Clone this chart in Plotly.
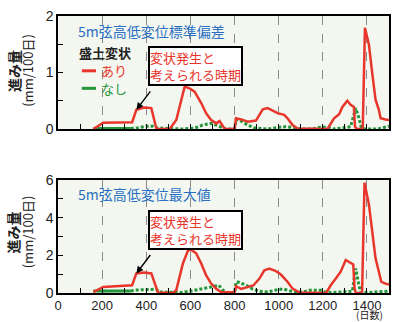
import plotly.graph_objects as go

# --- 5m弦高低変位標準偏差 (進み量, mm/100日) ---
std_ari_days = [160, 205, 336, 355, 390, 423, 446, 506, 536, 574,
                596, 619, 649, 671, 694, 717, 732, 750, 756, 800,
                807, 830, 860, 897, 928, 950, 972, 995, 1025, 1040,
                1063, 1085, 1221, 1251, 1274, 1289, 1311, 1326, 1341, 1346,
                1355, 1381, 1391, 1409, 1424, 1439, 1454, 1462, 1484, 1500]
std_ari_vals = [0.0, 0.11, 0.12, 0.34, 0.38, 0.37, 0.0, 0.0, 0.16, 0.75,
                0.72, 0.66, 0.46, 0.28, 0.16, 0.10, 0.14, 0.04, 0.0, 0.0,
                0.19, 0.17, 0.13, 0.15, 0.35, 0.37, 0.33, 0.28, 0.25, 0.19,
                0.07, 0.01, 0.0, 0.19, 0.26, 0.39, 0.50, 0.43, 0.39, 0.04,
                0.0, 0.0, 1.79, 1.49, 0.99, 0.52, 0.34, 0.19, 0.17, 0.16]

std_nashi_days = [160, 330, 360, 400, 430, 450, 500, 560, 600, 630,
                  655, 694, 717, 760, 800, 807, 830, 860, 890, 950,
                  1000, 1030, 1060, 1100, 1150, 1190, 1220, 1250, 1326, 1349,
                  1364, 1375, 1390, 1450, 1500]
std_nashi_vals = [0.01, 0.01, 0.02, 0.05, 0.05, 0.02, 0.01, 0.0, 0.01, 0.03,
                  0.07, 0.10, 0.07, 0.0, 0.0, 0.17, 0.14, 0.07, 0.02, 0.0,
                  0.03, 0.04, 0.03, 0.0, 0.0, 0.03, 0.03, 0.0, 0.04, 0.37,
                  0.19, 0.02, 0.0, 0.0, 0.05]

# --- 5m弦高低変位最大値 (進み量, mm/100日) ---
max_ari_days = [160, 205, 336, 355, 390, 423, 453, 520, 536, 566,
                589, 604, 626, 649, 671, 694, 717, 739, 800, 807,
                830, 860, 885, 912, 935, 958, 985, 1010, 1040, 1063,
                1093, 1215, 1236, 1259, 1281, 1304, 1319, 1338, 1344, 1350,
                1378, 1389, 1409, 1424, 1439, 1454, 1465, 1484, 1500]
max_ari_vals = [0.05, 0.32, 0.41, 1.04, 1.09, 1.04, 0.03, 0.0, 0.15, 1.57,
                2.25, 2.29, 2.11, 1.57, 0.95, 0.5, 0.23, 0.05, 0.03, 0.36,
                0.22, 0.3, 0.4, 0.75, 1.2, 1.3, 1.18, 0.98, 0.6, 0.23,
                0.03, 0.0, 0.41, 0.77, 1.13, 1.75, 1.63, 1.52, 0.23, 0.0,
                0.0, 5.86, 4.7, 3.27, 1.84, 1.13, 0.59, 0.5, 0.45]

max_nashi_days = [160, 330, 345, 400, 445, 460, 500, 560, 600, 630,
                  656, 694, 729, 747, 770, 800, 807, 820, 853, 883,
                  910, 950, 1003, 1025, 1055, 1090, 1110, 1138, 1191, 1210,
                  1240, 1334, 1349, 1364, 1372, 1400, 1450, 1500]
max_nashi_vals = [0.1, 0.1, 0.15, 0.18, 0.2, 0.05, 0.03, 0.03, 0.1, 0.15,
                  0.23, 0.32, 0.41, 0.15, 0.02, 0.02, 0.59, 0.57, 0.41, 0.2,
                  0.1, 0.05, 0.2, 0.2, 0.1, 0.05, 0.05, 0.14, 0.14, 0.05,
                  0.02, 0.1, 1.3, 0.41, 0.03, 0.02, 0.05, 0.1]

x_ticks = [0, 200, 400, 600, 800, 1000, 1200, 1400]
std_y_ticks = [0, 1, 2]
max_y_ticks = [0, 2, 4, 6]

# known deformation onset (day of the step in あり)
onset_day = 355
onset_std = 0.34
onset_max = 1.04

RED = "#e8362c"
GREEN = "#23953a"
BLUE = "#2a6fc2"
BG = "#f3f7ef"
FONT = "Liberation Sans, Arial, sans-serif"
JP = "Noto Sans CJK JP"

fig = go.Figure()


def add_series(xa, ya, days_n, vals_n, days_a, vals_a, solid_upto):
    # solid stretch at the beginning of なし, dotted afterwards
    k = days_n.index(solid_upto) + 1
    fig.add_trace(go.Scatter(x=days_n[:k], y=vals_n[:k], mode="lines",
                             line=dict(color=GREEN, width=3),
                             xaxis=xa, yaxis=ya, showlegend=False))
    fig.add_trace(go.Scatter(x=days_n[k - 1:], y=vals_n[k - 1:], mode="lines",
                             line=dict(color=GREEN, width=3, dash="3px,2px"),
                             xaxis=xa, yaxis=ya, showlegend=False))
    fig.add_trace(go.Scatter(x=days_a, y=vals_a, mode="lines",
                             line=dict(color=RED, width=2.5),
                             xaxis=xa, yaxis=ya, showlegend=False))


add_series("x", "y", std_nashi_days, std_nashi_vals, std_ari_days, std_ari_vals, 330)
add_series("x2", "y2", max_nashi_days, max_nashi_vals, max_ari_days, max_ari_vals, 330)

xcommon = dict(range=[0, 1500], tickvals=x_ticks, ticks="inside", ticklen=5,
               tickcolor="black", showgrid=True, gridcolor="#8a8a8a",
               griddash="dash", gridwidth=1, showline=True, linecolor="black",
               linewidth=1.5, mirror=True, zeroline=False,
               minor=dict(dtick=100, tick0=0, ticks="inside", ticklen=5,
                          tickcolor="black", showgrid=False),
               tickfont=dict(family=FONT, size=13, color="#222"))
ycommon = dict(ticks="inside", ticklen=5, tickcolor="black", showgrid=False,
               showline=True, linecolor="black", linewidth=1.5, mirror=True,
               zeroline=False, tickfont=dict(family=FONT, size=14, color="#222"))

fig.update_layout(
    width=395, height=322,
    margin=dict(l=58, r=4, t=16, b=29),
    paper_bgcolor="white", plot_bgcolor=BG,
    showlegend=False,
    xaxis=dict(xcommon, domain=[0, 1], anchor="y", showticklabels=False),
    yaxis=dict(ycommon, domain=[0.592, 1], anchor="x", range=[0, 2],
               tickvals=std_y_ticks,
               minor=dict(dtick=0.5, ticks="inside", ticklen=5, tickcolor="black")),
    xaxis2=dict(xcommon, domain=[0, 1], anchor="y2"),
    yaxis2=dict(ycommon, domain=[0, 0.408], anchor="x2", range=[0, 6],
                tickvals=max_y_ticks,
                minor=dict(dtick=1, ticks="inside", ticklen=5, tickcolor="black")),
)

# panel titles
fig.add_annotation(xref="x", yref="y", x=80, y=1.74, xanchor="left", yanchor="middle",
                   text="5m弦高低変位標準偏差", showarrow=False,
                   font=dict(family=JP, size=14, color=BLUE))
fig.add_annotation(xref="x2", yref="y2", x=80, y=5.24, xanchor="left", yanchor="middle",
                   text="5m弦高低変位最大値", showarrow=False,
                   font=dict(family=JP, size=14, color=BLUE))

# legend (盛土変状)
fig.add_annotation(xref="x", yref="y", x=88, y=1.36, xanchor="left", yanchor="middle",
                   text="<b>盛土変状</b>", showarrow=False,
                   font=dict(family=JP, size=13, color="#222"))
fig.add_shape(type="line", xref="x", yref="y", x0=108, x1=172, y0=1.03, y1=1.03,
              line=dict(color=RED, width=3))
fig.add_annotation(xref="x", yref="y", x=185, y=1.03, xanchor="left", yanchor="middle",
                   text="あり", showarrow=False, font=dict(family=JP, size=13, color=RED))
fig.add_shape(type="line", xref="x", yref="y", x0=108, x1=172, y0=0.72, y1=0.72,
              line=dict(color=GREEN, width=3))
fig.add_annotation(xref="x", yref="y", x=185, y=0.72, xanchor="left", yanchor="middle",
                   text="なし", showarrow=False, font=dict(family=JP, size=13, color=GREEN))

# callouts pointing to the onset step
callout = "変状発生と<br>考えられる時期"
for xr, yr, yc, yhead in (("x", "y", 1.12, onset_std), ("x2", "y2", 3.35, onset_max)):
    fig.add_annotation(xref=xr, yref=yr, x=625, y=yc, xanchor="center", yanchor="middle",
                       text=callout, showarrow=False, align="left",
                       font=dict(family=JP, size=13, color=RED),
                       bgcolor="white", bordercolor="black", borderwidth=2, borderpad=0)
    fig.add_annotation(xref=xr, yref=yr, x=onset_day, y=yhead, ax=16, ay=-21,
                       text=" ", showarrow=True, arrowhead=2, arrowsize=1,
                       arrowwidth=1.4, arrowcolor="black", standoff=0, startstandoff=0,
                       font=dict(size=2))

# y-axis titles
for ymid in (0.803, 0.22):
    fig.add_annotation(xref="paper", yref="paper", x=-0.135, y=ymid,
                       xanchor="center", yanchor="middle", textangle=-90,
                       text="<b>進み量</b>", showarrow=False,
                       font=dict(family=JP, size=14, color="#222"))
    fig.add_annotation(xref="paper", yref="paper", x=-0.093, y=ymid,
                       xanchor="center", yanchor="middle", textangle=-90,
                       text="(mm/100日)", showarrow=False,
                       font=dict(family=JP, size=13, color="#222"))

# x unit
fig.add_annotation(xref="paper", yref="paper", x=0.94, y=-0.079,
                   xanchor="center", yanchor="middle", text="(日数)", showarrow=False,
                   font=dict(family=JP, size=10, color="#222"))

fig.write_html("out.html")
